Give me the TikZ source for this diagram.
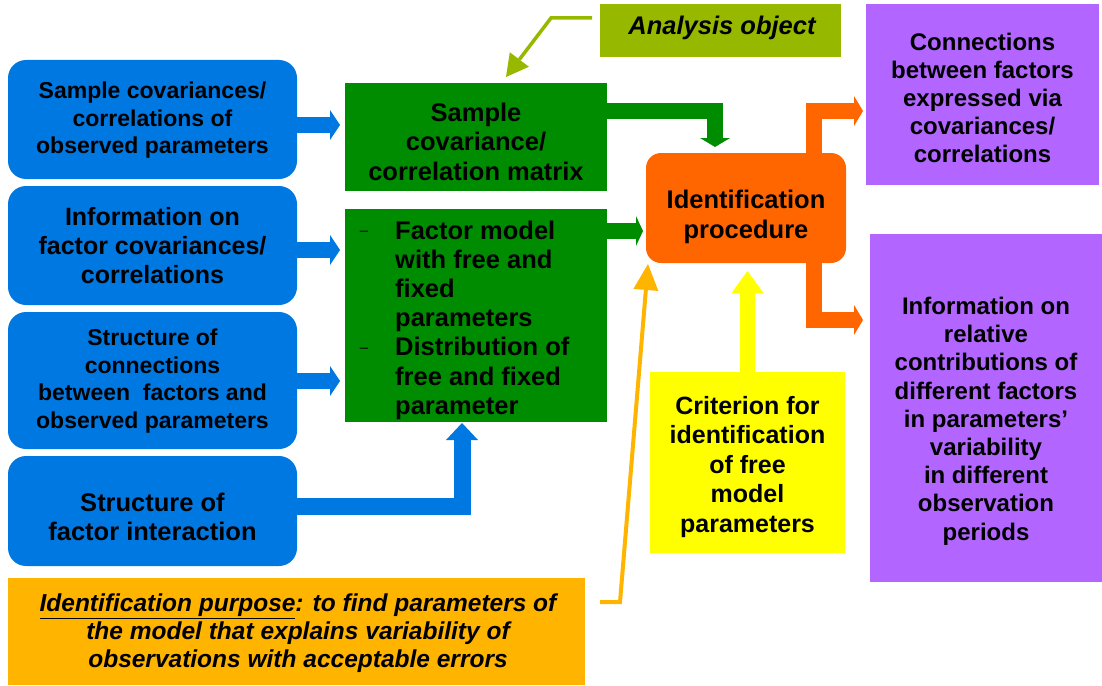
\documentclass[tikz,border=0pt]{standalone}
\usepackage{fontspec}
\setmainfont{Liberation Sans}
\usetikzlibrary{arrows.meta}
\definecolor{cblue}{RGB}{0,120,225}
\definecolor{cgreen}{RGB}{0,140,0}
\definecolor{corange}{RGB}{255,102,0}
\definecolor{cpurple}{RGB}{178,102,255}
\definecolor{cyellow}{RGB}{255,255,0}
\definecolor{cgold}{RGB}{255,180,0}
\definecolor{colive}{RGB}{150,185,0}
\newcommand\fz[2]{\fontsize{#1}{#2}\selectfont\bfseries}
\begin{document}
\begin{tikzpicture}[x=1pt,y=-1pt,
  box/.style={inner sep=0pt, outer sep=0pt, draw=none},
  txt/.style={inner sep=0pt, align=center, text=black},
  blk/.style={line width=#1, line join=miter, line cap=butt},
  bluebox/.style={box, fill=cblue, rounded corners=18pt, minimum width=289pt},
]
\useasboundingbox (0,0) rectangle (1102,685);
% ---- boxes
\node[bluebox, minimum height=119pt] (b1) at (152.5,119.5) {};
\node[bluebox, minimum height=119pt] (b2) at (152.5,245.5) {};
\node[bluebox, minimum height=137pt] (b3) at (152.5,380.5) {};
\node[bluebox, minimum height=110pt] (b4) at (152.5,511) {};
\node[box, fill=cgreen, minimum width=262pt, minimum height=108pt] (g1) at (476,137) {};
\node[box, fill=cgreen, minimum width=262pt, minimum height=213pt] (g2) at (476,315.5) {};
\node[box, fill=colive, minimum width=241pt, minimum height=53pt] (an) at (720.5,30.5) {};
\node[box, fill=corange, rounded corners=15pt, minimum width=200pt, minimum height=110pt] (op) at (746,208) {};
\node[box, fill=cpurple, minimum width=233pt, minimum height=181pt] (p1) at (982.5,94.5) {};
\node[box, fill=cpurple, minimum width=232pt, minimum height=348pt] (p2) at (986,408) {};
\node[box, fill=cyellow, minimum width=195pt, minimum height=181pt] (ye) at (747.5,462.5) {};
\node[box, fill=cgold, minimum width=577pt, minimum height=107pt] (pu) at (296.5,631.5) {};
% ---- texts
\node[txt, font=\fz{23}{27.5}] (b1t) at (152.5,120.5) {Sample covariances/\\correlations of\\observed parameters};
\node[txt, font=\fz{25}{29}] (b2t) at (152.5,246) {Information on\\factor covariances/\\correlations};
\node[txt, font=\fz{23}{27.5}] (b3t) at (152.5,381) {Structure of\\connections\\between\ \ factors and\\observed parameters};
\node[txt, font=\fz{25.5}{29}] (b4t) at (152.5,516.5) {Structure of\\factor interaction};
\node[txt, font=\fz{25.5}{29.5}] (g1t) at (476,141.5) {Sample\\covariance/\\correlation matrix};
\begin{scope}
\clip (g2.north west) rectangle (g2.south east);
\node[txt, align=left, anchor=base west, font=\fz{25.5}{29.2}] (g2t) at (395,414.2) {Factor model\\with free and\\fixed\\parameters\\Distribution of\\free and fixed\\parameter};
\end{scope}
\node[txt, font=\fontsize{15}{15}\selectfont] (d1) at (364,233) {–};
\node[txt, font=\fontsize{15}{15}\selectfont] (d2) at (364,350) {–};
\node[txt, font=\fz{25.5}{29}\itshape] (ant) at (722,28) {Analysis object};
\node[txt, font=\fz{25.5}{30}] (opt) at (746,217) {Identification\\procedure};
\node[txt, font=\fz{24}{28}] (p1t) at (982.5,98) {Connections\\between factors\\expressed via\\covariances/\\correlations};
\node[txt, font=\fz{24}{28.2}] (p2t) at (986,421) {Information on\\relative\\contributions of\\different factors\\in parameters’\\variability\\in different\\observation\\periods};
\node[txt, font=\fz{25}{29.5}] (yet) at (747.5,467) {Criterion for\\identification\\of free\\model\\parameters};
\node[txt, font=\fz{24.5}{28}\itshape] (put) at (298,633) {\underline{Identification purpose}: to find parameters of\\the model that explains variability of\\observations with acceptable errors};
% ---- connectors
\tikzset{bt/.style={-{Triangle[length=#1,width=30pt,line width=0pt]}}}
\draw[blk=16pt, cblue, bt=10pt, shorten >=5pt] (b1.east |- 0,125) -- (g1.west |- 0,125);
\draw[blk=16pt, cblue, bt=10pt, shorten >=5pt] (b2.east |- 0,250) -- (g2.west |- 0,250);
\draw[blk=16pt, cblue, bt=10pt, shorten >=5pt] (b3.east |- 0,381) -- (g2.west |- 0,381);
\draw[blk=17pt, cblue, -{Triangle[length=17pt,width=32pt,line width=0pt]}, shorten >=1pt] (b4.east |- 0,506) -| (462,422);
\draw[blk=16pt, cgreen, bt=9pt, shorten >=6pt] (g1.east |- 0,111) -| ([xshift=-31pt]op.north);
\draw[blk=16pt, cgreen, bt=7pt, shorten >=3pt] (g2.east |- 0,231) -- (op.west |- 0,231);
\draw[blk=16pt, corange, bt=9pt, shorten >=3pt] ([xshift=68pt]op.north) |- (p1.west |- 0,111);
\draw[blk=16pt, corange, bt=9pt, shorten >=7pt] ([xshift=68pt]op.south) |- (p2.west |- 0,320);
\draw[blk=15pt, cyellow, -{Triangle[length=22pt,width=32pt,line width=0pt]}, shorten >=8pt] (ye.north) -- (ye.north |- op.south);
\coordinate (gtip) at ([xshift=2pt,yshift=-1pt]op.south west);
\draw[line width=4pt, cgold, line join=miter, -{Triangle[length=26pt,width=25pt,line width=0pt]}, shorten <=15pt] (pu.east |- 0,602) -- (620,602) -- (gtip);
\coordinate (atip) at (506,77);
\draw[line width=3.5pt, colive, line join=miter, -{Triangle[length=22pt,width=24pt,line width=0pt]}, shorten <=8pt] (an.west |- 0,18) -- (551,18) -- (atip);
\end{tikzpicture}
\end{document}
